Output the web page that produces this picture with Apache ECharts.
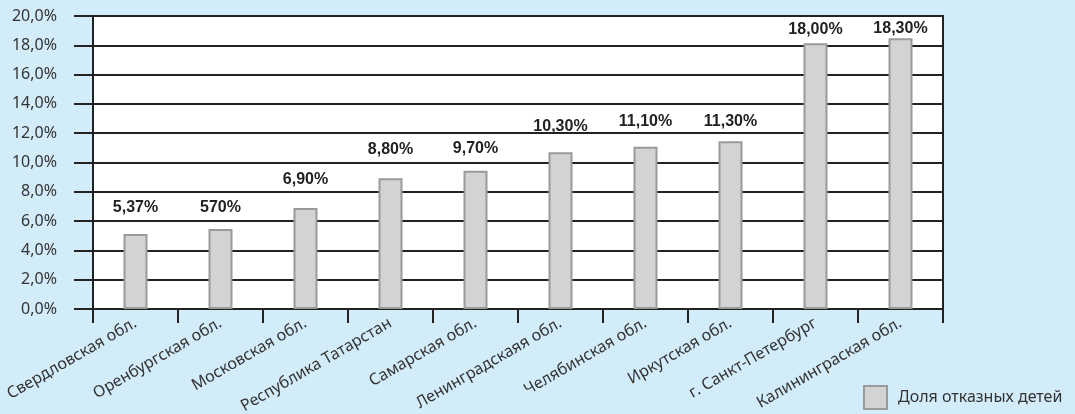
<!DOCTYPE html>
<html>
<head>
<meta charset="utf-8">
<style>
  html, body { margin: 0; padding: 0; background: #d3ecf9; }
  #chart { width: 1075px; height: 414px; }
</style>
<script src="https://cdn.jsdelivr.net/npm/echarts@6/dist/echarts.min.js"></script>
</head>
<body>
<div id="chart"></div>
<script>
// регионы
var regions = ['Свердловская обл.', 'Оренбургская обл.', 'Московская обл.', 'Республика Татарстан',
    'Самарская обл.', 'Ленинградскаяя обл.', 'Челябинская обл.', 'Иркутская обл.',
    'г. Санкт-Петербург', 'Калининграская обл.'];
// высота столбцов (как нарисовано)
var shares = [5.12, 5.46, 6.9, 8.92, 9.44, 10.7, 11.08, 11.45, 18.14, 18.48];
// подписи над столбцами (как в оригинале)
var shareLabels = ['5,37%', '570%', '6,90%', '8,80%', '9,70%', '10,30%', '11,10%', '11,30%', '18,00%', '18,30%'];
var seriesName = 'Доля отказных детей';

// отступ подписи от верха столбца
var labelGap = [18, 13, 20, 21, 14, 18, 17, 12, 6, 2];

var dark = '#222';
var barItems = [];
for (var i = 0; i < shares.length; i++) {
    barItems.push({
        value: shares[i],
        label: { distance: labelGap[i] }
    });
}

var e = echarts.init(document.getElementById('chart'));
var option = {
    backgroundColor: '#d3ecf9',
    animation: false,
    legend: {
        left: 858,
        top: 380,
        itemWidth: 23,
        itemHeight: 23,
        itemGap: 10,
        icon: 'rect',
        data: [seriesName],
        textStyle: { fontFamily: 'Noto Sans', fontSize: 16, color: '#333', padding: [0, 0, 0, 6] }
    },
    grid: {
        left: 93,
        right: 132,
        top: 16,
        bottom: 105,
        outerBoundsMode: 'none',
        show: true,
        backgroundColor: '#fff',
        borderColor: dark,
        borderWidth: 2
    },
    xAxis: {
        type: 'category',
        data: regions,
        axisLine: { lineStyle: { color: dark, width: 2 } },
        axisTick: { show: true, length: 14, lineStyle: { color: dark, width: 2 } },
        axisLabel: {
            rotate: 30,
            margin: 13,
            interval: 0,
            fontFamily: 'Noto Sans',
            fontSize: 16,
            color: '#333'
        }
    },
    yAxis: {
        type: 'value',
        min: 0,
        max: 20,
        interval: 2,
        axisLine: { show: true, lineStyle: { color: dark, width: 2 } },
        axisTick: { show: true, length: 19, lineStyle: { color: dark, width: 2 } },
        splitLine: { show: true, lineStyle: { color: dark, width: 2 } },
        axisLabel: {
            margin: 36,
            fontFamily: 'Noto Sans',
            fontSize: 16,
            color: '#333',
            formatter: function (v) {
                return v.toFixed(1).replace('.', ',') + '%';
            }
        }
    },
    series: [{
        name: seriesName,
        type: 'bar',
        data: barItems,
        barWidth: 24,
        itemStyle: { color: '#d1d3d5', borderColor: '#9a9a9a', borderWidth: 2 },
        label: {
            show: true,
            position: 'top',
            fontFamily: 'Liberation Sans',
            fontWeight: 'bold',
            fontSize: 16,
            color: '#222',
            formatter: function (p) {
                return shareLabels[p.dataIndex];
            }
        }
    }]
};
e.setOption(option);
</script>
</body>
</html>
